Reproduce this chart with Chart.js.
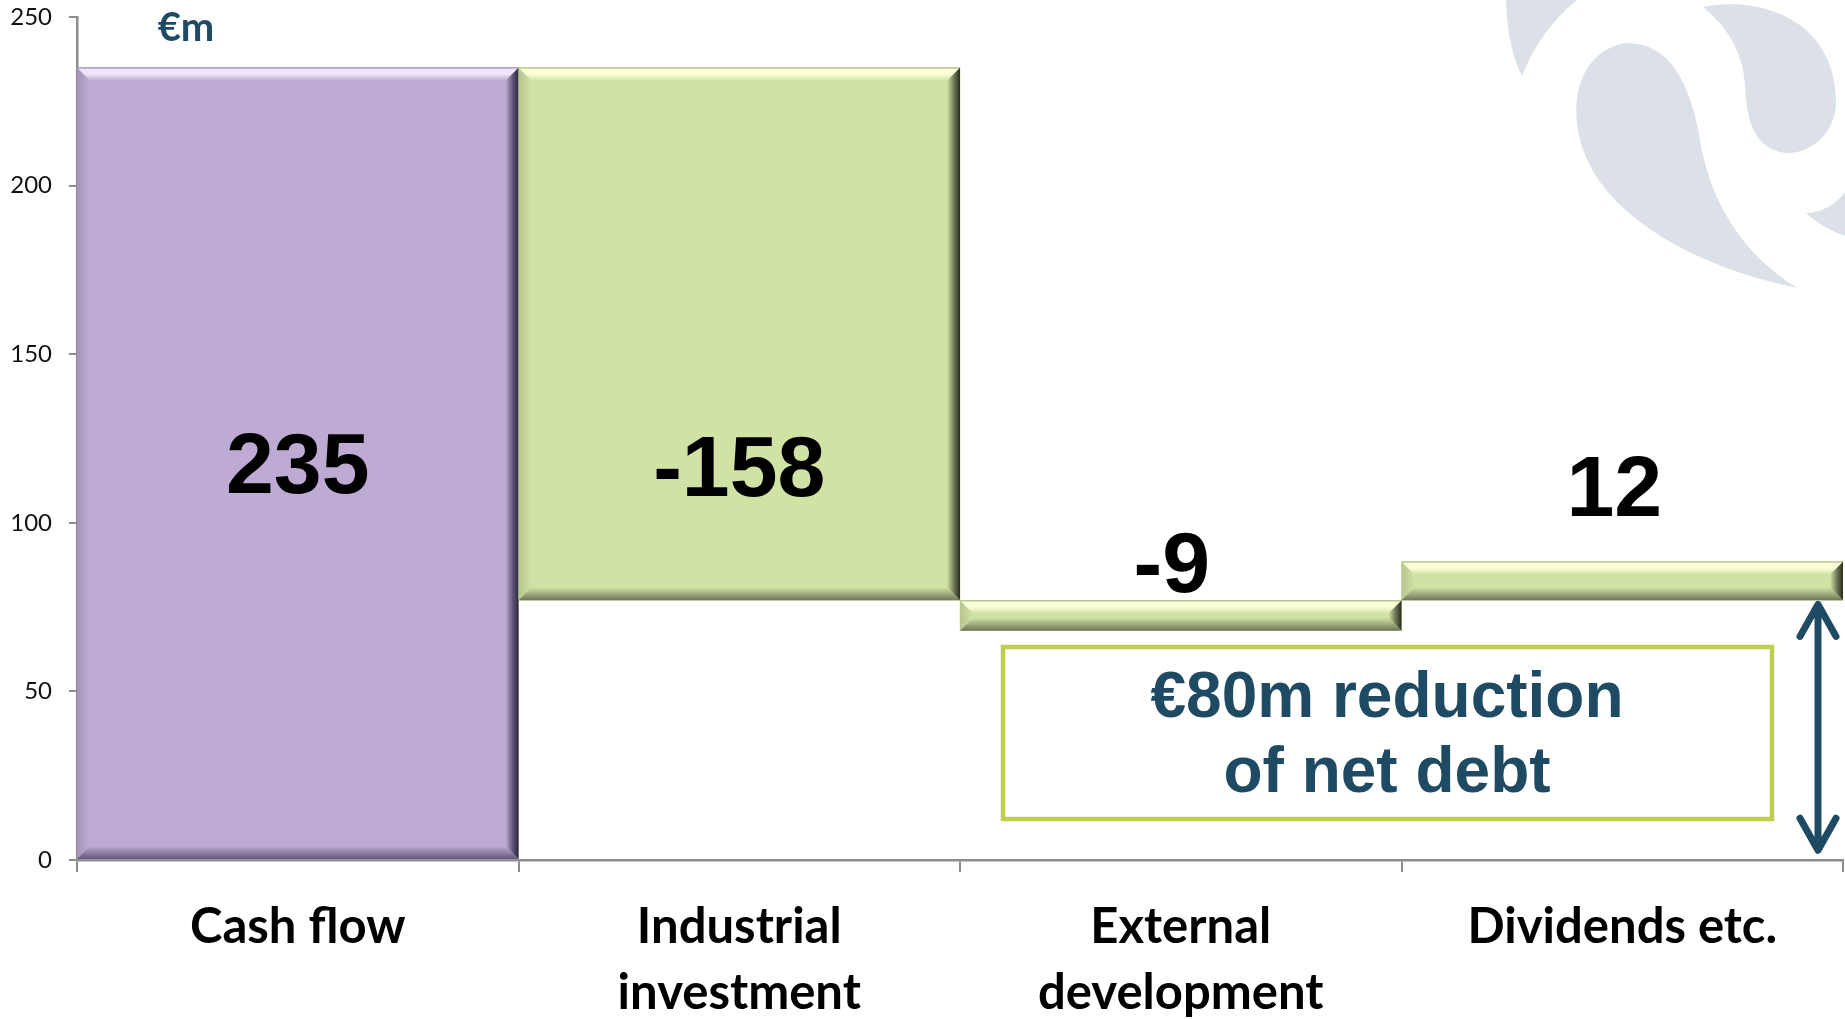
<!DOCTYPE html>
<html>
<head>
<meta charset="utf-8">
<script src="https://cdn.jsdelivr.net/npm/chart.js@4.4.1/dist/chart.umd.min.js"></script>
<style>
  html, body { margin: 0; padding: 0; background: #fff; }
  #wrap { width: 1845px; height: 1019px; }
</style>
</head>
<body>
<div id="wrap"><canvas id="waterfall"></canvas></div>
<script>
// chart data
const categories = [['Cash flow'], ['Industrial', 'investment'], ['External', 'development'], ['Dividends etc.']];
const barStart = [0, 77, 68, 77];
const barEnd = [235, 235, 77, 88.5];
const valueLabels = ['235', '-158', '-9', '12'];
const yTickValues = [0, 50, 100, 150, 200, 250];
const unitLabel = '€m';
const noteLines = ['€80m reduction', 'of net debt'];

const TEAL = '#1E4B63';
const palettes = {
  purple: { base: '#BDABD3', light: '#EFE6FB', rim: '#9A8BB0', left: '#A293B8', dark: '#62577A', right: '#2C2636' },
  green:  { base: '#D1E2A5', light: '#FBFFD8', rim: '#A6B585', left: '#B6C68E', dark: '#6C7656', right: '#262B1B' }
};
const barPalette = [palettes.purple, palettes.green, palettes.green, palettes.green];

// faint logo in the top right corner
const watermark = {
  id: 'watermark',
  beforeDraw(chart) {
    const ctx = chart.ctx;
    ctx.save();
    ctx.fillStyle = '#DCE1E8';
    ctx.beginPath();
    ctx.moveTo(1506, 0);
    ctx.quadraticCurveTo(1508, 50, 1522, 76);
    ctx.quadraticCurveTo(1540, 30, 1577, 0);
    ctx.closePath();
    ctx.fill();

    ctx.beginPath();
    ctx.moveTo(1627, 43);
    ctx.bezierCurveTo(1668, 43, 1690, 80, 1700, 140);
    ctx.bezierCurveTo(1710, 200, 1740, 252, 1797, 288);
    ctx.bezierCurveTo(1720, 272, 1640, 237, 1600, 182);
    ctx.bezierCurveTo(1560, 125, 1572, 50, 1627, 43);
    ctx.fill();

    ctx.beginPath();
    ctx.moveTo(1703, 7);
    ctx.bezierCurveTo(1760, -5, 1835, 20, 1836, 100);
    ctx.bezierCurveTo(1837, 140, 1800, 158, 1780, 152);
    ctx.bezierCurveTo(1750, 145, 1746, 110, 1745, 85);
    ctx.bezierCurveTo(1743, 50, 1725, 25, 1703, 7);
    ctx.fill();

    ctx.beginPath();
    ctx.moveTo(1806, 213);
    ctx.quadraticCurveTo(1830, 212, 1845, 192);
    ctx.lineTo(1845, 236);
    ctx.quadraticCurveTo(1822, 228, 1806, 213);
    ctx.fill();
    ctx.restore();
  }
};

// excel style bevel on each bar
const bevel = {
  id: 'bevel',
  afterDatasetsDraw(chart) {
    const ctx = chart.ctx;
    chart.getDatasetMeta(0).data.forEach((bar, i) => {
      const p = bar.getProps(['x', 'y', 'base', 'width'], true);
      const l = p.x - p.width / 2, r = p.x + p.width / 2;
      const t = Math.min(p.y, p.base), b = Math.max(p.y, p.base);
      const s = Math.min(13, (b - t) / 2.3);
      const c = barPalette[i];
      ctx.save();

      let g = ctx.createLinearGradient(l, 0, l + s, 0);
      g.addColorStop(0, c.left); g.addColorStop(1, c.base);
      ctx.fillStyle = g;
      ctx.beginPath();
      ctx.moveTo(l, t); ctx.lineTo(l + s, t + s); ctx.lineTo(l + s, b - s); ctx.lineTo(l, b);
      ctx.fill();

      g = ctx.createLinearGradient(r - s, 0, r, 0);
      g.addColorStop(0, c.base); g.addColorStop(0.55, c.dark); g.addColorStop(1, c.right);
      ctx.fillStyle = g;
      ctx.beginPath();
      ctx.moveTo(r, t); ctx.lineTo(r - s, t + s); ctx.lineTo(r - s, b - s); ctx.lineTo(r, b);
      ctx.fill();

      g = ctx.createLinearGradient(0, t, 0, t + s);
      g.addColorStop(0, c.rim); g.addColorStop(0.15, c.light); g.addColorStop(0.5, c.light); g.addColorStop(1, c.base);
      ctx.fillStyle = g;
      ctx.beginPath();
      ctx.moveTo(l, t); ctx.lineTo(r, t); ctx.lineTo(r - s, t + s); ctx.lineTo(l + s, t + s);
      ctx.fill();

      g = ctx.createLinearGradient(0, b - s, 0, b);
      g.addColorStop(0, c.base); g.addColorStop(1, c.dark);
      ctx.fillStyle = g;
      ctx.beginPath();
      ctx.moveTo(l, b); ctx.lineTo(r, b); ctx.lineTo(r - s, b - s); ctx.lineTo(l + s, b - s);
      ctx.fill();

      ctx.restore();
    });
  }
};

// big value numbers on / above the bars
const valueText = {
  id: 'valueText',
  afterDatasetsDraw(chart) {
    const ctx = chart.ctx;
    const y = chart.scales.y;
    const lift = [0, 0, 35, 72];
    const shiftX = [0, 0, -9, -8];
    ctx.save();
    ctx.font = 'bold 86px "Liberation Sans", Arial, sans-serif';
    ctx.fillStyle = '#000';
    ctx.textAlign = 'center';
    ctx.textBaseline = 'middle';
    chart.getDatasetMeta(0).data.forEach((bar, i) => {
      let ty;
      if (barEnd[i] - barStart[i] > 50) {
        ty = y.getPixelForValue(barEnd[0] / 2) + (i === 1 ? 5 : 2);
      } else {
        ty = y.getPixelForValue(barEnd[i]) - lift[i];
      }
      ctx.fillText(valueLabels[i], bar.x + shiftX[i], ty + 3);
    });
    ctx.restore();
  }
};

// unit label, the note box and the double arrow
const notes = {
  id: 'notes',
  afterDraw(chart) {
    const ctx = chart.ctx;
    const y = chart.scales.y;
    const area = chart.chartArea;
    ctx.save();
    ctx.fillStyle = TEAL;
    ctx.textAlign = 'center';
    ctx.textBaseline = 'middle';
    ctx.font = 'bold 40px Lato, "Open Sans", sans-serif';
    ctx.fillText(unitLabel, 186, 28);

    ctx.strokeStyle = '#BFCE4E';
    ctx.lineWidth = 4.5;
    ctx.strokeRect(1003, 647, 769, 172);

    ctx.font = 'bold 64px "Liberation Sans", Arial, sans-serif';
    ctx.fillText(noteLines[0], 1387, 699);
    ctx.fillText(noteLines[1], 1387, 774);

    const ax = area.right - 25;
    const top = y.getPixelForValue(barStart[3]) + 1;
    const bot = y.getPixelForValue(2);
    ctx.strokeStyle = TEAL;
    ctx.lineWidth = 7;
    ctx.lineCap = 'round';
    ctx.lineJoin = 'round';
    ctx.beginPath();
    ctx.moveTo(ax, top + 4); ctx.lineTo(ax, bot - 4);
    ctx.moveTo(ax - 18, top + 35); ctx.lineTo(ax, top + 3); ctx.lineTo(ax + 18, top + 35);
    ctx.moveTo(ax - 18, bot - 35); ctx.lineTo(ax, bot - 3); ctx.lineTo(ax + 18, bot - 35);
    ctx.stroke();
    ctx.restore();
  }
};

const ctx = document.getElementById('waterfall').getContext('2d');
new Chart(ctx, {
  type: 'bar',
  data: {
    labels: categories,
    datasets: [{
      data: barStart.map((s, i) => [s, barEnd[i]]),
      backgroundColor: barPalette.map(c => c.base),
      borderWidth: 0,
      borderSkipped: false,
      barPercentage: 1,
      categoryPercentage: 1
    }]
  },
  options: {
    responsive: true,
    maintainAspectRatio: false,
    animation: false,
    layout: { padding: { top: 17, right: 2, left: 0, bottom: 0 } },
    plugins: { legend: { display: false }, tooltip: { enabled: false } },
    scales: {
      x: {
        z: 1,
        afterFit: (scale) => { scale.height = 159; },
        grid: { offset: true, drawOnChartArea: false, drawTicks: true, tickLength: 12, color: '#8C8C8C', lineWidth: 2 },
        border: { display: true, color: '#8C8C8C', width: 2.5 },
        ticks: {
          padding: 23,
          color: '#000',
          font: { family: 'Lato, "Open Sans", sans-serif', size: 49, weight: 'bold', lineHeight: 1.33 },
          maxRotation: 0,
          autoSkip: false
        }
      },
      y: {
        z: 1,
        min: yTickValues[0],
        max: yTickValues[yTickValues.length - 1],
        afterFit: (scale) => { scale.width = 77; scale.paddingTop = 0; scale.paddingBottom = 0; },
        grid: { drawOnChartArea: false, drawTicks: true, tickLength: 8, color: '#8C8C8C', lineWidth: 2 },
        border: { display: true, color: '#8C8C8C', width: 2.5 },
        ticks: {
          stepSize: yTickValues[1] - yTickValues[0],
          padding: 17,
          color: '#111',
          font: { family: 'Lato, "Open Sans", sans-serif', size: 24 }
        }
      }
    }
  },
  plugins: [watermark, bevel, valueText, notes]
});
</script>
</body>
</html>
